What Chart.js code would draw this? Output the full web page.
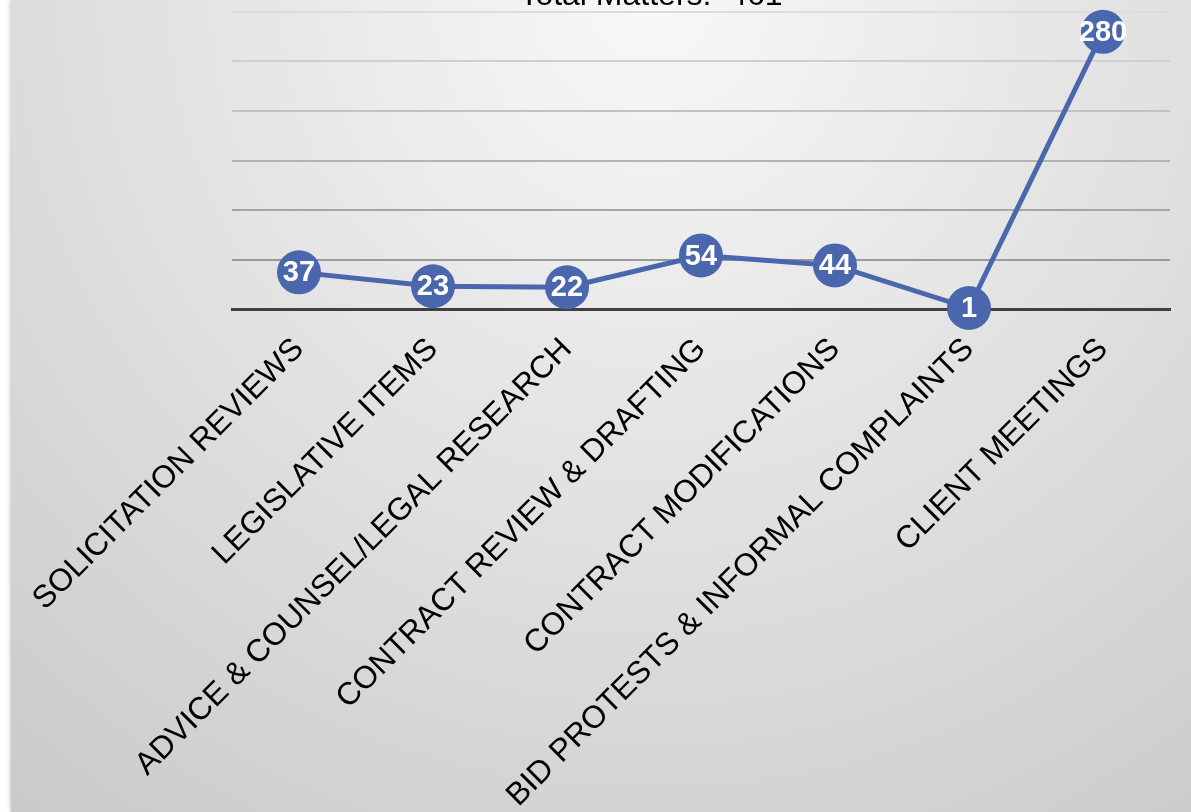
<!DOCTYPE html>
<html>
<head>
<meta charset="utf-8">
<script src="https://cdn.jsdelivr.net/npm/chart.js@4/dist/chart.umd.min.js"></script>
<style>
    html, body { margin: 0; padding: 0; background: #fff; }
    #wrap { width: 1191px; height: 812px; }
</style>
</head>
<body>
<div id="wrap"><canvas id="mattersChart"></canvas></div>
<script>
const categories = [
    'SOLICITATION REVIEWS',
    'LEGISLATIVE ITEMS',
    'ADVICE & COUNSEL/LEGAL RESEARCH',
    'CONTRACT REVIEW & DRAFTING',
    'CONTRACT MODIFICATIONS',
    'BID PROTESTS & INFORMAL COMPLAINTS',
    'CLIENT MEETINGS',
];
const matters = [37, 23, 22, 54, 44, 1, 280];
const titleText = 'Total Matters:  461';

const gridColors = {
    50: '#9a9a9a',
    100: '#a6a6a6',
    150: '#b3b3b3',
    200: '#c2c2c2',
    250: '#cfcfcf',
    300: '#dcdcdc',
};

// background panel with the white strip on the left
const backdrop = {
    id: 'backdrop',
    beforeDraw(chart) {
        const { ctx, width, height } = chart;
        ctx.save();
        ctx.fillStyle = '#ffffff';
        ctx.fillRect(0, 0, width, height);
        const g = ctx.createRadialGradient(650, 0, 0, 650, 0, 1050);
        g.addColorStop(0, '#f8f8f8');
        g.addColorStop(1, '#c9c9c9');
        ctx.shadowColor = 'rgba(0,0,0,0.35)';
        ctx.shadowBlur = 4;
        ctx.fillStyle = g;
        ctx.fillRect(11, 0, width - 11, height);
        ctx.restore();
    },
    afterDraw(chart) {
        const { ctx } = chart;
        ctx.save();
        ctx.fillStyle = '#000';
        ctx.font = '32px "Liberation Sans", Arial, sans-serif';
        ctx.textAlign = 'center';
        ctx.textBaseline = 'alphabetic';
        ctx.fillText(titleText, 651, 5);
        ctx.restore();
    },
};

// white numbers inside the markers
const pointValues = {
    id: 'pointValues',
    afterDatasetsDraw(chart) {
        const { ctx } = chart;
        const meta = chart.getDatasetMeta(0);
        ctx.save();
        ctx.fillStyle = '#ffffff';
        ctx.font = 'bold 29px "Liberation Sans", Arial, sans-serif';
        ctx.textAlign = 'center';
        ctx.textBaseline = 'middle';
        meta.data.forEach((pt, i) => {
            ctx.fillText(String(matters[i]), pt.x, pt.y + 1);
        });
        ctx.restore();
    },
};

new Chart(document.getElementById('mattersChart'), {
    type: 'line',
    data: {
        labels: categories,
        datasets: [
            {
                data: matters,
                borderColor: '#4a67ae',
                backgroundColor: '#4a67ae',
                borderWidth: 5,
                tension: 0,
                pointRadius: 22,
                pointHoverRadius: 22,
                pointBorderWidth: 0,
                clip: false,
            },
        ],
    },
    options: {
        responsive: true,
        maintainAspectRatio: false,
        animation: false,
        events: [],
        layout: { autoPadding: false, padding: { top: 12, left: 232, right: 21, bottom: 0 } },
        plugins: {
            legend: { display: false },
            tooltip: { enabled: false },
        },
        scales: {
            x: {
                offset: true,
                grid: { display: false },
                border: { display: true, color: '#404040', width: 3 },
                ticks: {
                    autoSkip: false,
                    maxRotation: 45,
                    minRotation: 45,
                    padding: 14,
                    color: '#000',
                    font: { size: 31.5, family: '"Liberation Sans", Arial, sans-serif' },
                },
                afterFit(scale) { scale.height = 503; },
            },
            y: {
                min: 0,
                max: 300,
                ticks: { display: false, stepSize: 50 },
                border: { display: false },
                grid: {
                    drawTicks: false,
                    lineWidth: 2,
                    color: (c) => gridColors[c.tick.value] || 'rgba(0,0,0,0)',
                },
                afterFit(scale) { scale.width = 0; },
            },
        },
    },
    plugins: [backdrop, pointValues],
});
</script>
</body>
</html>
